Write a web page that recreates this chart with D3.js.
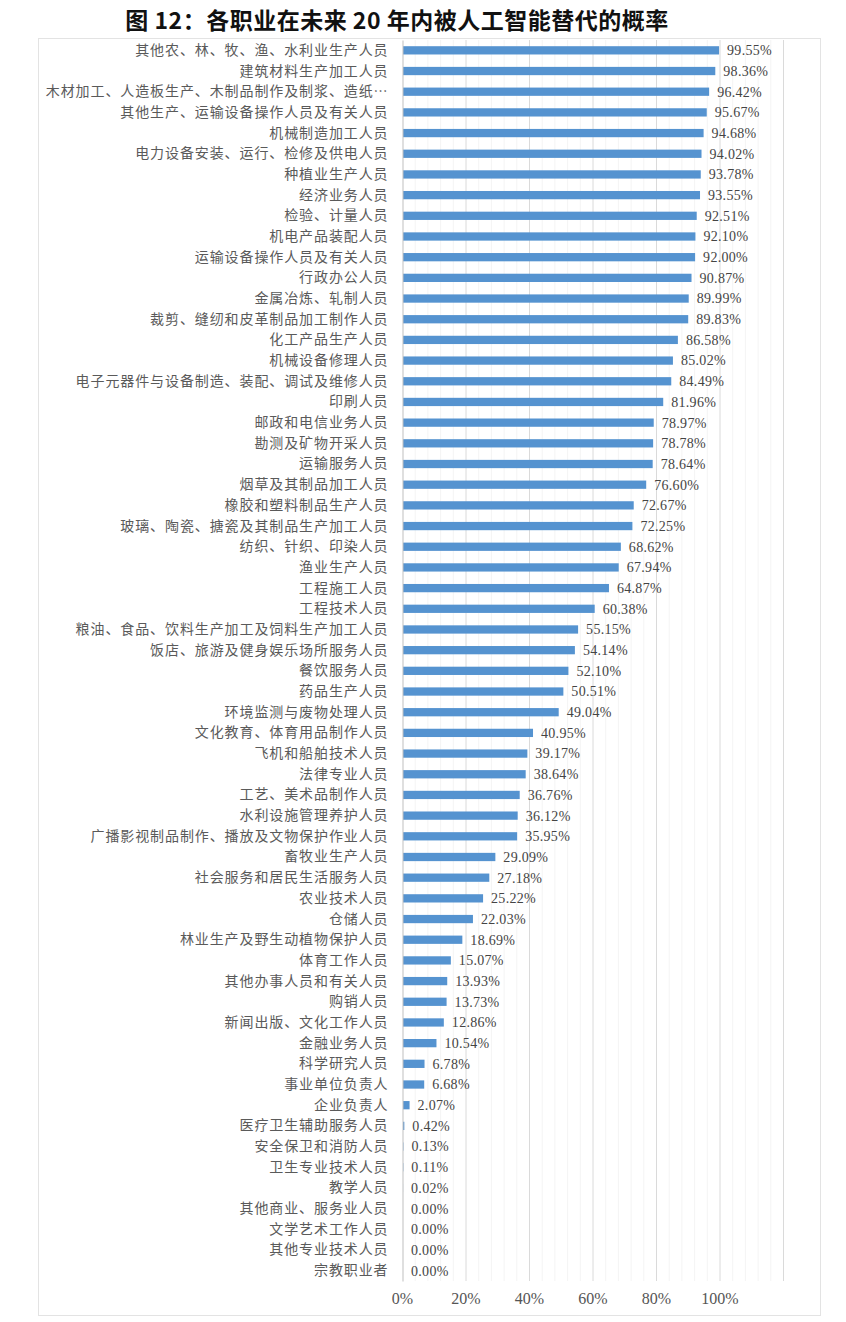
<!DOCTYPE html>
<html>
<head>
<meta charset="utf-8">
<script src="https://cdn.jsdelivr.net/npm/d3@7/dist/d3.min.js"></script>
<style>
    body { margin: 0; background: #fff; }
    svg text { font-family: "Noto Sans CJK SC", sans-serif; }
</style>
</head>
<body>
<div id="chart"></div>
<script>
// 职业名称（自上而下）
var jobs = [
    '其他农、林、牧、渔、水利业生产人员', '建筑材料生产加工人员', '木材加工、人造板生产、木制品制作及制浆、造纸…',
    '其他生产、运输设备操作人员及有关人员', '机械制造加工人员', '电力设备安装、运行、检修及供电人员',
    '种植业生产人员', '经济业务人员', '检验、计量人员', '机电产品装配人员', '运输设备操作人员及有关人员',
    '行政办公人员', '金属冶炼、轧制人员', '裁剪、缝纫和皮革制品加工制作人员', '化工产品生产人员',
    '机械设备修理人员', '电子元器件与设备制造、装配、调试及维修人员', '印刷人员', '邮政和电信业务人员',
    '勘测及矿物开采人员', '运输服务人员', '烟草及其制品加工人员', '橡胶和塑料制品生产人员',
    '玻璃、陶瓷、搪瓷及其制品生产加工人员', '纺织、针织、印染人员', '渔业生产人员', '工程施工人员',
    '工程技术人员', '粮油、食品、饮料生产加工及饲料生产加工人员', '饭店、旅游及健身娱乐场所服务人员',
    '餐饮服务人员', '药品生产人员', '环境监测与废物处理人员', '文化教育、体育用品制作人员',
    '飞机和船舶技术人员', '法律专业人员', '工艺、美术品制作人员', '水利设施管理养护人员',
    '广播影视制品制作、播放及文物保护作业人员', '畜牧业生产人员', '社会服务和居民生活服务人员',
    '农业技术人员', '仓储人员', '林业生产及野生动植物保护人员', '体育工作人员', '其他办事人员和有关人员',
    '购销人员', '新闻出版、文化工作人员', '金融业务人员', '科学研究人员', '事业单位负责人', '企业负责人',
    '医疗卫生辅助服务人员', '安全保卫和消防人员', '卫生专业技术人员', '教学人员', '其他商业、服务业人员',
    '文学艺术工作人员', '其他专业技术人员', '宗教职业者'
];
// 替代概率 (%)
var probs = [
    99.55, 98.36, 96.42, 95.67, 94.68, 94.02, 93.78, 93.55, 92.51, 92.10, 92.00, 90.87, 89.99, 89.83,
    86.58, 85.02, 84.49, 81.96, 78.97, 78.78, 78.64, 76.60, 72.67, 72.25, 68.62, 67.94, 64.87, 60.38,
    55.15, 54.14, 52.10, 50.51, 49.04, 40.95, 39.17, 38.64, 36.76, 36.12, 35.95, 29.09, 27.18, 25.22,
    22.03, 18.69, 15.07, 13.93, 13.73, 12.86, 10.54, 6.78, 6.68, 2.07, 0.42, 0.13, 0.11, 0.02,
    0.00, 0.00, 0.00, 0.00
];
var xTicks = [0, 20, 40, 60, 80, 100];
var title = '图 12：各职业在未来 20 年内被人工智能替代的概率';

var W = 846, H = 1322;
var plotL = 402, plotR = 783, plotT = 40, plotB = 1281;

var svg = d3.select('#chart').append('svg').attr('width', W).attr('height', H);

svg.append('text')
    .attr('x', 397).attr('y', 29)
    .attr('text-anchor', 'middle')
    .style('font-size', '23px').style('font-weight', 'bold').style('fill', '#111')
    .style('letter-spacing', '0.5px')
    .text(title);

// 外框
svg.append('rect')
    .attr('x', 38.5).attr('y', 38.5).attr('width', 782).attr('height', 1277)
    .style('fill', 'none').style('stroke', '#e3e3e3');

var x = d3.scaleLinear().domain([0, 120]).range([plotL, plotR]);
var y = d3.scaleBand().domain(jobs).range([plotT, plotB]).paddingInner(0.6).paddingOuter(0.3);

// 次网格
svg.append('g').selectAll('line')
    .data(d3.range(0, 121, 4).filter(function(d) { return d % 20 !== 0; }))
    .enter().append('line')
    .attr('x1', function(d) { return x(d) + 0.5; }).attr('x2', function(d) { return x(d) + 0.5; })
    .attr('y1', plotT).attr('y2', plotB)
    .style('stroke', '#f4f4f4');

// 主网格
svg.append('g').selectAll('line')
    .data(d3.range(20, 121, 20))
    .enter().append('line')
    .attr('x1', function(d) { return x(d) + 0.5; }).attr('x2', function(d) { return x(d) + 0.5; })
    .attr('y1', plotT).attr('y2', plotB)
    .style('stroke', '#dadada');

// 柱
svg.append('g').selectAll('rect')
    .data(probs)
    .enter().append('rect')
    .attr('x', x(0) + 1)
    .attr('y', function(d, i) { return y(jobs[i]); })
    .attr('width', function(d) { return x(d) - x(0); })
    .attr('height', y.bandwidth())
    .style('fill', '#5593d0');

// y 轴
var yAxis = svg.append('g')
    .attr('transform', 'translate(' + (plotL + 0.5) + ',0)')
    .call(d3.axisLeft(y).tickSize(0).tickPadding(14));
yAxis.select('.domain').style('stroke', '#bfbfbf');
yAxis.selectAll('text')
    .style('font-size', '14px').style('fill', '#5a5a5a').style('letter-spacing', '0.9px')
    .style('font-family', '"Noto Sans CJK SC", sans-serif');

// 数值标签
svg.append('g').selectAll('text')
    .data(probs)
    .enter().append('text')
    .attr('x', function(d) { return x(d) + 9; })
    .attr('y', function(d, i) { return y(jobs[i]) + y.bandwidth() / 2; })
    .attr('dy', '0.35em')
    .style('font-family', '"Liberation Serif", serif').style('font-size', '14px').style('fill', '#444')
    .style('letter-spacing', '0.3px')
    .text(function(d) { return d.toFixed(2) + '%'; });

// x 轴
var xAxis = svg.append('g')
    .attr('transform', 'translate(0,' + plotB + ')')
    .call(d3.axisBottom(x).tickValues(xTicks).tickSize(0).tickPadding(12)
        .tickFormat(function(d) { return d + '%'; }));
xAxis.select('.domain').remove();
xAxis.selectAll('text')
    .style('font-family', '"Liberation Serif", serif').style('font-size', '16px').style('fill', '#555');
</script>
</body>
</html>
